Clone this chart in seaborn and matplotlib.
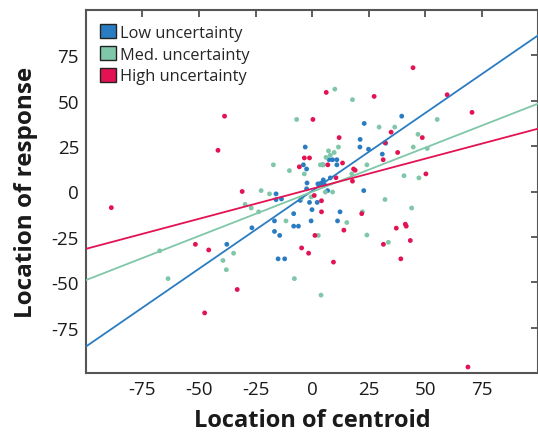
import numpy as np
import pandas as pd
import matplotlib
matplotlib.use("Agg")
import matplotlib.pyplot as plt
from matplotlib.patches import Patch
import seaborn as sns

# ---- data ----
low_x = [39.7, 23.1, 21.3, 21.2, 25, 32.6, 31.1, -3, -3.8, -2.4, 4.7, 7.6, 9.1, 11, 11, 8.1,
         -2.2, 4, 2.6, 5.5, 5, -2.4, 6.9, -15.9, -15.9, -13.5, -5.2, -1.1, 2.3, 0, 12.4, -8.1,
         22.9, -37.7, -26.6, -16.6, -0.4, 11.3, -8.1, -6, -16.6, -14.3, -15, -12.1]
low_y = [41.5, 37.5, 28.7, 24.5, 23.3, 26.6, 20.6, 24.5, 14.7, 12.4, 14.7, 17.5, 17.5, 17.5, 14.7, 7.5,
         4.7, 4.6, 4.2, 3.8, 6.4, 1.5, 0.5, -1.3, -4.5, -4.1, -4.9, -6, -6, -10, -11.2, -12.2,
         0.5, -29.1, -20, -16.2, -16.2, -16.2, -19.1, -19.1, -22, -24.2, -37.1, -37.1]

med_x = [-22.5, -29.6, -26.9, -23.6, -67.4, -63.7, -34.7, -39.4, -37.9, 10.1, 17.9, -6.8, 29.7, 36.6,
         55.4, 46.9, 44.8, 51, 11.7, 7.3, 9.8, 6.2, 8.1, 3.7, 5.1, -3.4, -10, -17.1, 24.3, 17.6, 40.7,
         47.3, 5.9, 9.1, -0.4, -4.7, 32.3, 44.1, 22.3, -18.8, -11.5, 15.4, 2.8, 24.3, 33.8, -7.8, 4]
med_y = [0.5, -7.1, -9.1, -11.2, -32.7, -48, -34, -38, -43.1, 56.4, 50.6, 39.7, 35.5, 35.5,
         39.7, 31.5, 24.5, 23.7, 24.5, 22.4, 21.5, 18.8, 20, 14.7, 14.7, 9.7, 11.5, 14.7, 14.7, 9.7, 8.7,
         7.5, -0.3, -0.3, -3, -3.6, -4.4, -9.1, -11.2, -1.3, -16.2, -17.1, -24.2, -24, -28, -48, -57.1]

high_x = [-88.8, -38.7, -41.6, -30.9, -51.6, -45.7, -33.1, -47.5, 69, 6.3, 44.7, 27.5, 59.8, 70.8,
          0.4, 12, 35, 32.3, 48.8, 37.9, -3.4, -1.1, -5.6, 7, 13.5, 31.5, 18.4, 19.1, 50.4, 10.6,
          17.9, 1, 4.2, 4.2, 22, 1.3, 14.1, -4.6, -1.5, 9.5, 31.6, 37.3, 41.3, 41.7, 43.5, 39.3]
high_y = [-8.9, 41.5, 22.7, 0, -29.1, -32.2, -54, -66.9, -96.7, 54.6, 68.2, 52.4, 53.3, 43.6,
          39.7, 29.7, 32.7, 26.9, 29.7, 21.5, 18.5, 18.5, 13.6, 14.7, 15.7, 17.5, 12.4, 11.7, 9.7, 7.6,
          5.7, -2.2, -5.1, -11.2, -12.2, -24.2, -21.3, -31.1, -34, -38.9, -29.1, -20.2, -18, -19.1, -27, -37.1]

groups = ["Low uncertainty", "Med. uncertainty", "High uncertainty"]
slopes = [0.857, 0.486, 0.331]
intercepts = [0.3, -0.2, 1.5]
x_ticks = [-75, -50, -25, 0, 25, 50, 75]
y_ticks = [-75, -50, -25, 0, 25, 50, 75]

colors = {"Low uncertainty": "#2a7cc2", "Med. uncertainty": "#7fc7a8", "High uncertainty": "#e31252"}

pts = pd.concat([
    pd.DataFrame({"x": low_x, "y": low_y, "group": groups[0]}),
    pd.DataFrame({"x": med_x, "y": med_y, "group": groups[1]}),
    pd.DataFrame({"x": high_x, "y": high_y, "group": groups[2]}),
], ignore_index=True)

line_x = np.array([-100, 100])
lines = pd.concat([
    pd.DataFrame({"x": line_x, "y": s * line_x + b, "group": g})
    for g, s, b in zip(groups, slopes, intercepts)
], ignore_index=True)

sns.set_theme(style="white")
plt.rcParams["font.family"] = ["Open Sans", "DejaVu Sans"]

fig = plt.figure(figsize=(5.38, 4.35), dpi=100)
ax = fig.add_axes([86 / 538, 61 / 435, 452 / 538, 363 / 435])

sns.scatterplot(data=pts, x="x", y="y", hue="group", palette=colors, s=12,
                linewidth=0, legend=False, ax=ax, zorder=2)
sns.lineplot(data=lines, x="x", y="y", hue="group", palette=colors, linewidth=1.3,
             legend=False, ax=ax, zorder=3, estimator=None)

ax.set_xlim(-100, 100)
ax.set_ylim(-100, 100)
ax.set_xticks(x_ticks)
ax.set_yticks(y_ticks)
ax.set_xticklabels([str(t) for t in x_ticks], fontsize=13.5)
ax.set_yticklabels([str(t) for t in y_ticks], fontsize=13.5)
ax.tick_params(direction="in", length=5, width=1.2, color="#444444",
               top=True, right=True, pad=5, labelcolor="#1a1a1a")
for sp in ax.spines.values():
    sp.set_color("#555555")
    sp.set_linewidth(1.5)

ax.set_xlabel("Location of centroid", fontsize=17, fontweight="bold", color="#1a1a1a", labelpad=7)
ax.set_ylabel("Location of response", fontsize=17.5, fontweight="bold", color="#1a1a1a", labelpad=10)

handles = [Patch(facecolor=colors[g], edgecolor="#222222", linewidth=1.0) for g in groups]
ax.legend(handles, groups, loc="upper left", bbox_to_anchor=(0.032, 0.962), frameon=False,
          handlelength=0.95, handleheight=1.0, handletextpad=0.25, labelspacing=0.3,
          borderaxespad=0, borderpad=0, fontsize=11.8)

fig.savefig("out.png", dpi=100)
